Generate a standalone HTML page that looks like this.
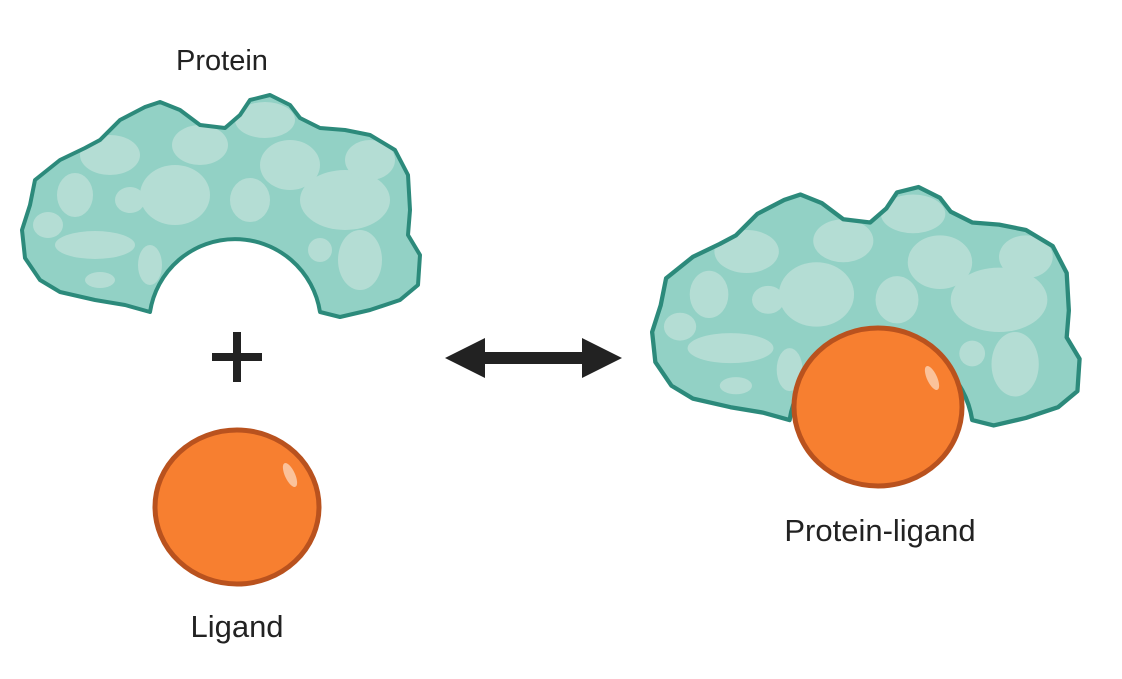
<!DOCTYPE html>
<html><head><style>body{margin:0;background:#fff}svg{display:block}</style></head><body>
<svg width="1122" height="679" viewBox="0 0 1122 679" xmlns="http://www.w3.org/2000/svg">
<defs>
<clipPath id="cp"><path d="M150,312 L125,305 L95,300 L60,292 L40,280 L25,258 L22,230 L30,205 L35,180 L60,160 L85,148 L100,140 L120,120 L145,107 L160,102 L180,110 L200,125 L225,128 L240,115 L250,100 L270,95 L290,105 L300,118 L320,128 L345,130 L370,135 L395,150 L408,175 L410,210 L408,235 L420,255 L418,285 L400,300 L370,310 L340,317 L320,312 A86,86 0 0 0 150,312 Z"/></clipPath>
<g id="prot">
<path d="M150,312 L125,305 L95,300 L60,292 L40,280 L25,258 L22,230 L30,205 L35,180 L60,160 L85,148 L100,140 L120,120 L145,107 L160,102 L180,110 L200,125 L225,128 L240,115 L250,100 L270,95 L290,105 L300,118 L320,128 L345,130 L370,135 L395,150 L408,175 L410,210 L408,235 L420,255 L418,285 L400,300 L370,310 L340,317 L320,312 A86,86 0 0 0 150,312 Z" fill="#92d1c5"/>
<g clip-path="url(#cp)" fill="#b4ddd4">
<ellipse cx="75" cy="195" rx="18" ry="22"/><ellipse cx="130" cy="200" rx="15" ry="13"/>
<ellipse cx="175" cy="195" rx="35" ry="30"/><ellipse cx="110" cy="155" rx="30" ry="20"/>
<ellipse cx="200" cy="145" rx="28" ry="20"/><ellipse cx="265" cy="120" rx="30" ry="18"/>
<ellipse cx="290" cy="165" rx="30" ry="25"/><ellipse cx="250" cy="200" rx="20" ry="22"/>
<ellipse cx="345" cy="200" rx="45" ry="30"/><ellipse cx="370" cy="160" rx="25" ry="20"/>
<ellipse cx="95" cy="245" rx="40" ry="14"/><ellipse cx="48" cy="225" rx="15" ry="13"/>
<ellipse cx="360" cy="260" rx="22" ry="30"/><ellipse cx="320" cy="250" rx="12" ry="12"/>
<ellipse cx="150" cy="265" rx="12" ry="20"/><ellipse cx="100" cy="280" rx="15" ry="8"/>
</g>
<path d="M150,312 L125,305 L95,300 L60,292 L40,280 L25,258 L22,230 L30,205 L35,180 L60,160 L85,148 L100,140 L120,120 L145,107 L160,102 L180,110 L200,125 L225,128 L240,115 L250,100 L270,95 L290,105 L300,118 L320,128 L345,130 L370,135 L395,150 L408,175 L410,210 L408,235 L420,255 L418,285 L400,300 L370,310 L340,317 L320,312 A86,86 0 0 0 150,312 Z" fill="none" stroke="#2c8a7b" stroke-width="4" stroke-linejoin="round"/>
</g>
</defs>
<text x="222" y="70" font-family="Liberation Sans, sans-serif" font-size="29" fill="#222" text-anchor="middle">Protein</text>
<use href="#prot"/>
<rect x="212" y="353" width="50" height="8" fill="#222"/><rect x="233" y="332" width="8" height="50" fill="#222"/>
<ellipse cx="237" cy="507" rx="82" ry="77" fill="#f77f30" stroke="#b9521e" stroke-width="5"/>
<ellipse cx="290" cy="475" rx="5" ry="13" fill="#fbc29a" transform="rotate(-25 290 475)"/>
<text x="237" y="637" font-family="Liberation Sans, sans-serif" font-size="31" fill="#222" text-anchor="middle">Ligand</text>
<path d="M445,358 L485,338 L485,352 L582,352 L582,338 L622,358 L582,378 L582,364 L485,364 L485,378 Z" fill="#222"/>
<g transform="translate(628.5,85) scale(1.074)"><use href="#prot"/></g>
<ellipse cx="878" cy="407" rx="84" ry="79" fill="#f77f30" stroke="#b9521e" stroke-width="5"/>
<ellipse cx="932" cy="378" rx="5" ry="13" fill="#fbc29a" transform="rotate(-25 932 378)"/>
<text x="880" y="541" font-family="Liberation Sans, sans-serif" font-size="31" fill="#222" text-anchor="middle">Protein-ligand</text>
</svg>
</body></html>
